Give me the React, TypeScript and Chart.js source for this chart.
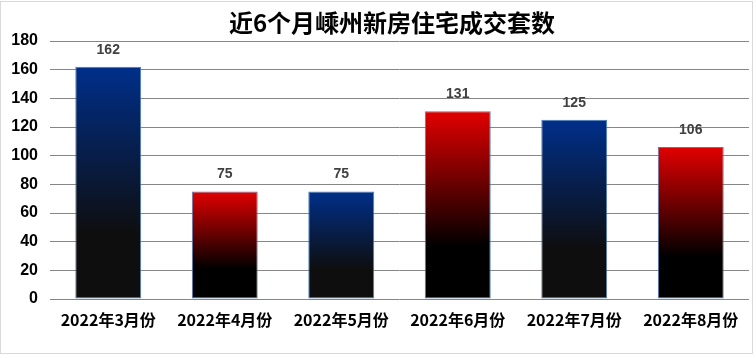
import React, { useEffect, useRef } from "react";
import { Chart, registerables } from "chart.js";

Chart.register(...registerables);

const titleText = "近6个月嵊州新房住宅成交套数";
const categories = [
  "2022年3月份",
  "2022年4月份",
  "2022年5月份",
  "2022年6月份",
  "2022年7月份",
  "2022年8月份",
];
const values = [162, 75, 75, 131, 125, 106];
const tones = ["blue", "red", "blue", "red", "blue", "red"];
const yMin = 0;
const yMax = 180;
const yStep = 20;

const TONE_STOPS: Record<string, [string, string]> = {
  blue: ["#002f8a", "#0e0e0e"],
  red: ["#e20000", "#000000"],
};

export default function App() {
  const canvasRef = useRef<HTMLCanvasElement | null>(null);

  useEffect(() => {
    document.body.style.margin = "0";
    const canvas = canvasRef.current;
    if (!canvas) return;

    const framePlugin = {
      id: "frame",
      beforeDraw(chart: any) {
        const ctx = chart.ctx;
        ctx.save();
        ctx.fillStyle = "#ffffff";
        ctx.fillRect(0, 0, chart.width, chart.height);
        ctx.strokeStyle = "#d9d9d9";
        ctx.lineWidth = 1;
        ctx.strokeRect(0.5, 1.5, 752, 352);
        ctx.restore();
      },
      afterDraw(chart: any) {
        const ctx = chart.ctx;
        ctx.save();
        ctx.fillStyle = "#000000";
        ctx.font = 'bold 24px "Noto Sans CJK SC", sans-serif';
        ctx.textAlign = "center";
        ctx.textBaseline = "middle";
        ctx.fillText(titleText, 392, 23);
        ctx.restore();
      },
    };

    const valueLabelPlugin = {
      id: "valueLabels",
      afterDatasetsDraw(chart: any) {
        const ctx = chart.ctx;
        const meta = chart.getDatasetMeta(0);
        ctx.save();
        ctx.fillStyle = "#404040";
        ctx.font = 'bold 14px "Liberation Sans", Arial, sans-serif';
        ctx.textAlign = "center";
        ctx.textBaseline = "middle";
        meta.data.forEach((bar: any, i: number) => {
          ctx.fillText(String(values[i]), bar.x, bar.y - 17);
        });
        ctx.restore();
      },
    };

    const chart = new Chart(canvas, {
      type: "bar",
      data: {
        labels: categories,
        datasets: [
          {
            data: values,
            backgroundColor: (c: any) => {
              const tone = tones[c.dataIndex] || "blue";
              const [top, bottom] = TONE_STOPS[tone];
              const chartObj = c.chart;
              const y = chartObj.scales && chartObj.scales.y;
              if (!y || c.raw === undefined) return top;
              const yTop = y.getPixelForValue(c.raw);
              const yBase = y.getPixelForValue(0);
              if (!isFinite(yTop) || !isFinite(yBase) || yTop === yBase) return top;
              const g = chartObj.ctx.createLinearGradient(0, yTop, 0, yBase);
              g.addColorStop(0, top);
              g.addColorStop(0.72, bottom);
              g.addColorStop(1, bottom);
              return g;
            },
            borderColor: "#4a7ebb",
            borderWidth: 1,
            borderSkipped: false,
            categoryPercentage: 1,
            barPercentage: 0.566,
          },
        ],
      },
      options: {
        responsive: false,
        animation: false,
        devicePixelRatio: 1,
        layout: { padding: { top: 41, right: 7, bottom: 0, left: 0 } },
        plugins: {
          legend: { display: false },
          title: { display: false },
          tooltip: { enabled: false },
        },
        scales: {
          x: {
            grid: { display: false },
            border: { display: false },
            ticks: {
              color: "#000000",
              padding: 3,
              maxRotation: 0,
              autoSkip: false,
              font: { family: '"Noto Sans CJK SC", sans-serif', size: 16, weight: "bold" },
            },
            afterFit(scale: any) {
              scale.height = 59;
            },
          },
          y: {
            min: yMin,
            max: yMax,
            ticks: {
              stepSize: yStep,
              color: "#000000",
              padding: 12,
              font: { family: '"Liberation Sans", Arial, sans-serif', size: 16, weight: "bold" },
            },
            grid: { color: "#868686", lineWidth: 1, drawTicks: false },
            border: { display: false },
            afterFit(scale: any) {
              scale.width = 50;
            },
          },
        },
      },
      plugins: [framePlugin, valueLabelPlugin],
    });

    return () => {
      chart.destroy();
    };
  }, []);

  return (
    <div style={{ width: 756, height: 358, position: "relative" }}>
      <canvas ref={canvasRef} width={756} height={358} />
    </div>
  );
}
